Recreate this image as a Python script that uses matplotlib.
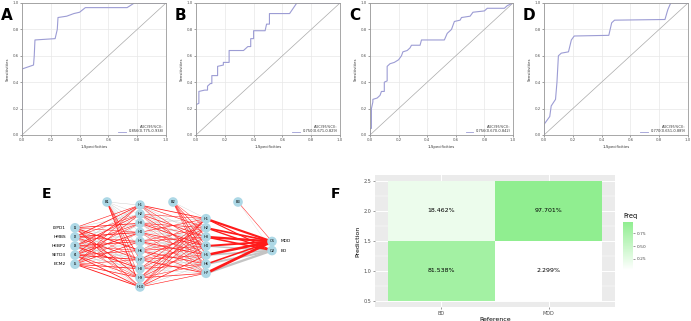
import numpy as np
import matplotlib.pyplot as plt
from matplotlib.colors import LinearSegmentedColormap

# ---- ROC curves (A-D): 1-specificity vs sensitivity
fpr_a = [0.0, 0.0, 0.08, 0.085, 0.09, 0.23, 0.245, 0.25, 0.31, 0.36, 0.40, 0.44, 0.73, 0.78, 1.0]
tpr_a = [0.0, 0.50, 0.53, 0.60, 0.72, 0.73, 0.80, 0.89, 0.90, 0.92, 0.93, 0.965, 0.965, 1.0, 1.0]
fpr_b = [0.0, 0.0, 0.02, 0.02, 0.06, 0.08, 0.08, 0.10, 0.11, 0.11, 0.15, 0.15, 0.19, 0.19, 0.23, 0.23,
         0.33, 0.36, 0.38, 0.38, 0.40, 0.40, 0.48, 0.49, 0.51, 0.51, 0.65, 0.70, 1.0]
tpr_b = [0.0, 0.23, 0.24, 0.33, 0.34, 0.34, 0.37, 0.39, 0.39, 0.45, 0.45, 0.52, 0.53, 0.55, 0.55, 0.64,
         0.64, 0.67, 0.67, 0.73, 0.73, 0.79, 0.79, 0.84, 0.84, 0.92, 0.92, 1.0, 1.0]
fpr_c = [0.0, 0.0, 0.01, 0.01, 0.02, 0.02, 0.05, 0.07, 0.08, 0.10, 0.10, 0.12, 0.12, 0.14, 0.17, 0.20,
         0.22, 0.23, 0.26, 0.28, 0.29, 0.35, 0.36, 0.52, 0.54, 0.57, 0.59, 0.63, 0.64, 0.70, 0.72, 0.80,
         0.82, 0.94, 0.96, 1.0]
tpr_c = [0.0, 0.05, 0.05, 0.20, 0.25, 0.27, 0.28, 0.30, 0.33, 0.33, 0.40, 0.41, 0.52, 0.54, 0.55, 0.57,
         0.60, 0.63, 0.64, 0.66, 0.68, 0.68, 0.72, 0.72, 0.77, 0.80, 0.86, 0.87, 0.89, 0.90, 0.93, 0.94,
         0.96, 0.96, 0.98, 1.0]
fpr_d = [0.0, 0.0, 0.02, 0.04, 0.05, 0.08, 0.09, 0.10, 0.12, 0.17, 0.19, 0.21, 0.45, 0.47, 0.49, 0.84,
         0.86, 0.88, 1.0]
tpr_d = [0.0, 0.08, 0.11, 0.14, 0.22, 0.27, 0.40, 0.60, 0.62, 0.63, 0.72, 0.75, 0.755, 0.85, 0.87, 0.875,
         0.95, 1.0, 1.0]
roc_x = [fpr_a, fpr_b, fpr_c, fpr_d]
roc_y = [tpr_a, tpr_b, tpr_c, tpr_d]
auc_txt = ['0.856(0.775-0.938)', '0.750(0.671-0.829)', '0.756(0.670-0.842)', '0.770(0.651-0.889)']
roc_letters = ['A', 'B', 'C', 'D']

# ---- network (E)
input_names = ['LYPD1', 'HMBS', 'HEBP2', 'SETD3', 'ECM2']
output_names = ['MDD', 'BD']
w_in = [
    [0.6, -0.4, 0.8, 0.5, -0.3, 0.9, 0.4, -0.5, 0.7, 0.6],
    [0.8, 0.5, -0.4, 0.9, 0.6, -0.3, 0.7, 0.4, -0.5, 0.3],
    [-0.5, 0.7, 0.6, -0.4, 0.8, 0.5, -0.6, 0.9, 0.4, -0.3],
    [0.7, -0.3, 0.5, 0.8, -0.4, 0.6, 0.9, -0.5, 0.6, 0.8],
    [0.5, 0.6, -0.5, 0.4, 0.7, -0.4, 0.5, 0.8, 0.7, 0.9],
]
b_h1 = [-0.4, -0.3, -0.4, -0.3, -0.3, -0.4, 0.7, 0.5, 0.4, 0.8]
w_hid = [
    [0.8, 0.6, -0.4, 0.5, -0.3, 0.4, -0.4],
    [0.5, -0.4, 0.7, -0.3, 0.6, -0.4, 0.3],
    [-0.4, 0.6, 0.5, 0.8, -0.4, 0.3, -0.3],
    [0.6, -0.3, -0.4, 0.7, 0.5, -0.4, 0.4],
    [-0.3, 0.5, 0.6, -0.4, 0.8, 0.4, -0.4],
    [0.4, -0.4, 0.5, 0.6, -0.3, 0.7, 0.5],
    [-0.4, 0.7, -0.3, 0.5, 0.6, -0.4, 0.8],
    [0.5, -0.3, 0.6, -0.4, 0.4, 0.6, -0.3],
    [0.7, 0.4, -0.4, 0.6, -0.3, 0.5, 0.7],
    [0.6, 0.5, 0.4, -0.3, 0.7, -0.4, 0.6],
]
b_h2 = [-0.3, 0.4, 0.6, 0.5, 0.7, 0.5, 0.4]
w_out = [
    [2.2, 1.2],
    [1.8, 1.4],
    [2.4, 1.6],
    [2.0, -1.5],
    [2.6, -1.8],
    [1.6, -2.0],
    [2.8, -2.4],
]
b_out = [0.5, -0.2]

# ---- confusion matrix (F)
ref_labels = ['BD', 'MDD']
pred_levels = [1, 2]
freq = np.array([[0.81538, 0.02299],    # prediction 1
                 [0.18462, 0.97701]])   # prediction 2

W, H = 691, 321
fig = plt.figure(figsize=(W / 100, H / 100), dpi=100)

def px_axes(x0, y0, x1, y1):
    return fig.add_axes([x0 / W, 1 - y1 / H, (x1 - x0) / W, (y1 - y0) / H])

roc_col = '#9C9CD4'
roc_boxes = [(22, 3, 166, 135), (196, 3, 340, 135), (370, 3, 513, 135), (544, 3, 688, 135)]
for k, box in enumerate(roc_boxes):
    ax = px_axes(*box)
    ax.set_xlim(0, 1)
    ax.set_ylim(0, 1)
    ticks = np.arange(0, 1.01, 0.2)
    ax.set_xticks(ticks)
    ax.set_yticks(ticks)
    ax.set_xticklabels([f'{t:.1f}' for t in ticks])
    ax.set_yticklabels([f'{t:.1f}' for t in ticks])
    ax.grid(color='#E8E8E8', lw=0.5)
    ax.set_axisbelow(True)
    ax.tick_params(labelsize=2.8, length=1.5, width=0.4, colors='#555555', pad=1)
    for s in ax.spines.values():
        s.set_color('#999999')
        s.set_linewidth(0.6)
    ax.plot([0, 1], [0, 1], color='#AAAAAA', lw=0.5)
    ax.plot(roc_x[k], roc_y[k], color=roc_col, lw=0.8)
    ax.set_xlabel('1-Specificities', fontsize=2.8, labelpad=1.5, color='#333333')
    ax.set_ylabel('Sensitivities', fontsize=2.8, labelpad=1.5, color='#333333')
    ax.text(0.985, 0.045, 'AUC(95%CI):', fontsize=2.6, ha='right', va='bottom', transform=ax.transAxes, color='#333333')
    ax.text(0.985, 0.012, auc_txt[k], fontsize=2.6, ha='right', va='bottom', transform=ax.transAxes, color='#333333')
    ax.plot([0.67, 0.72], [0.022, 0.022], color=roc_col, lw=0.6, transform=ax.transAxes)
    fig.text((box[0] - 21) / W, 1 - 20 / H, roc_letters[k], fontsize=11, fontweight='bold')

# ---- E: neural network diagram (axes in pixel units)
axe = px_axes(0, 160, 340, 321)
axe.set_xlim(0, 340)
axe.set_ylim(321, 160)
axe.axis('off')
layer_x = [75, 140, 206, 272]
bias_x = [107, 173, 238]
bias_y = 202
center_y, gap = 246, 9.1
sizes = [5, 10, 7, 2]
layers = []
for lx, n in zip(layer_x, sizes):
    ys = center_y + (np.arange(n) - (n - 1) / 2) * gap
    layers.append([(lx, y) for y in ys])

red, grey = '#FF1A1A', '#C4C4C4'

def draw_edges(src, dst, w):
    for i, p in enumerate(src):
        for j, q in enumerate(dst):
            v = w[i][j]
            axe.plot([p[0], q[0]], [p[1], q[1]], color=red if v > 0 else grey,
                     lw=abs(v) * 0.7, zorder=2 if v > 0 else 1, solid_capstyle='butt')

draw_edges(layers[0], layers[1], w_in)
draw_edges(layers[1], layers[2], w_hid)
draw_edges(layers[2], layers[3], w_out)
draw_edges([(bias_x[0], bias_y)], layers[1], [b_h1])
draw_edges([(bias_x[1], bias_y)], layers[2], [b_h2])
draw_edges([(bias_x[2], bias_y)], layers[3], [b_out])

node_names = [[f'I{i + 1}' for i in range(5)], [f'H{i + 1}' for i in range(10)],
              [f'H{i + 1}' for i in range(7)], [f'O{i + 1}' for i in range(2)]]
for nodes, names in zip(layers, node_names):
    for (x, y), nm in zip(nodes, names):
        axe.scatter(x, y, s=48, color='#ADD8E6', zorder=3, edgecolors='none')
        axe.text(x, y, nm, fontsize=2.6, ha='center', va='center', zorder=4)
for i, bx in enumerate(bias_x):
    axe.scatter(bx, bias_y, s=48, color='#ADD8E6', zorder=3, edgecolors='none')
    axe.text(bx, bias_y, f'B{i + 1}', fontsize=2.6, ha='center', va='center', zorder=4)
for (x, y), nm in zip(layers[0], input_names):
    axe.text(x - 9, y, nm, fontsize=3.2, ha='right', va='center')
for (x, y), nm in zip(layers[3], output_names):
    axe.text(x + 9, y, nm, fontsize=3.2, ha='left', va='center')
fig.text(42 / W, 1 - 198 / H, 'E', fontsize=10, fontweight='bold')
fig.text(331 / W, 1 - 198 / H, 'F', fontsize=10, fontweight='bold')

# ---- F: confusion matrix heatmap
axf = px_axes(375, 175, 615, 307)
axf.set_facecolor('#EBEBEB')
cmap = LinearSegmentedColormap.from_list('g', ['#FFFFFF', '#90EE90'])
vmin, vmax = freq.min(), freq.max()
axf.set_xlim(0.38, 2.62)
axf.set_ylim(0.4, 2.6)
for yv in np.arange(0.5, 2.51, 0.5):
    axf.axhline(yv, color='white', lw=0.7, zorder=0)
for yv in np.arange(0.75, 2.5, 0.5):
    axf.axhline(yv, color='white', lw=0.35, zorder=0)
for xv in [1, 2]:
    axf.axvline(xv, color='white', lw=0.7, zorder=0)
mesh = axf.pcolormesh([0.5, 1.5, 2.5], [0.5, 1.5, 2.5], freq, cmap=cmap, vmin=vmin, vmax=vmax, zorder=1)
for r, yv in enumerate(pred_levels):
    for c in range(2):
        axf.text(c + 1, yv, f'{freq[r, c] * 100:.3f}%', fontsize=4.5, ha='center', va='center', zorder=2)
axf.set_xticks([1, 2])
axf.set_xticklabels(ref_labels)
axf.set_yticks(np.arange(0.5, 2.51, 0.5))
axf.set_yticklabels([f'{v:.1f}' for v in np.arange(0.5, 2.51, 0.5)])
axf.tick_params(labelsize=3.5, length=1.5, width=0.4, colors='#4D4D4D', pad=1.2)
for s in axf.spines.values():
    s.set_visible(False)
axf.set_xlabel('Reference', fontsize=4.5, labelpad=0.8)
axf.set_ylabel('Prediction', fontsize=4.5, labelpad=2)

axc = px_axes(623, 222, 633, 270)
cb = fig.colorbar(mesh, cax=axc, ticks=[0.25, 0.5, 0.75])
cb.outline.set_visible(False)
cb.ax.tick_params(labelsize=3.2, length=1.5, width=0.4, colors='#4D4D4D', pad=1)
cb.ax.set_yticklabels(['0.25', '0.50', '0.75'])
fig.text(623 / W, 1 - 219 / H, 'Freq', fontsize=4.8, ha='left', va='bottom')

fig.savefig('out.png', dpi=100)
